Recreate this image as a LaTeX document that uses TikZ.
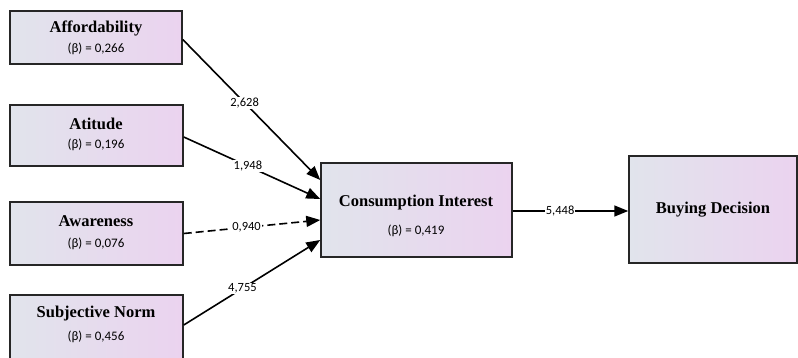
\documentclass[tikz,border=0pt]{standalone}
\usepackage{fontspec}
\setmainfont{Liberation Serif}
\newfontfamily\lblfont{Carlito}
\usetikzlibrary{arrows.meta}
\definecolor{boxl}{HTML}{E1E4EC}
\definecolor{boxr}{HTML}{EBD3EF}
\begin{document}
\begin{tikzpicture}[x=1pt,y=-1pt,
  box/.style={draw=black!85,line width=1.5pt,left color=boxl,right color=boxr,inner sep=0pt,rectangle},
  ttl/.style={font=\bfseries\fontsize{16.5}{18}\selectfont},
  beta/.style={font=\lblfont\fontsize{13}{15}\selectfont},
  arr/.style={line width=1.6pt,-{Triangle[length=14pt,width=11pt]}},
  lab/.style={font=\lblfont\fontsize{12.5}{14}\selectfont,fill=white,inner sep=1pt}]
\useasboundingbox (0,0) rectangle (798,358);
\node[box,minimum width=172pt,minimum height=53pt] (af) at (96,37.5) {};
\node[ttl] (aft) at (96,28) {Affordability};
\node[beta] (afb) at (96,49) {(β) = 0,266};
\node[box,minimum width=173pt,minimum height=61pt] (at) at (96.5,135.5) {};
\node[ttl] (att) at (96,124) {Atitude};
\node[beta] (atb) at (96,145) {(β) = 0,196};
\node[box,minimum width=173pt,minimum height=63pt] (aw) at (96.5,233.5) {};
\node[ttl] (awt) at (96,221) {Awareness};
\node[beta] (awb) at (96,244) {(β) = 0,076};
\node[box,minimum width=173pt,minimum height=67pt] (sn) at (96.5,328.5) {};
\node[ttl] (snt) at (96,314) {Subjective Norm};
\node[beta] (snb) at (96,337) {(β) = 0,456};
\node[box,minimum width=191pt,minimum height=94pt] (ci) at (416.5,210) {};
\node[ttl] (cit) at (416,203) {Consumption Interest};
\node[beta] (cib) at (416,231) {(β) = 0,419};
\node[box,minimum width=168pt,minimum height=107pt] (bd) at (713,209.5) {};
\node[ttl] (bdt) at (713,210) {Buying Decision};
\draw[arr] ([yshift=-2pt]af.east) -- node[lab,pos=0.45] {2,628} ([yshift=30pt]ci.west);
\draw[arr] ([yshift=-1.5pt]at.east) -- node[lab,pos=0.47] {1,948} ([yshift=11pt]ci.west);
\draw[arr,dash pattern=on 8pt off 4pt] (aw.east) -- node[lab,pos=0.46] {0,940} ([yshift=-10pt]ci.west);
\draw[arr] ([yshift=3.5pt]sn.east) -- node[lab,pos=0.43] {4,755} ([yshift=-30pt]ci.west);
\draw[arr] ([yshift=-1pt]ci.east) -- node[lab,pos=0.41] {5,448} ([yshift=-1.5pt]bd.west);
\end{tikzpicture}
\end{document}
